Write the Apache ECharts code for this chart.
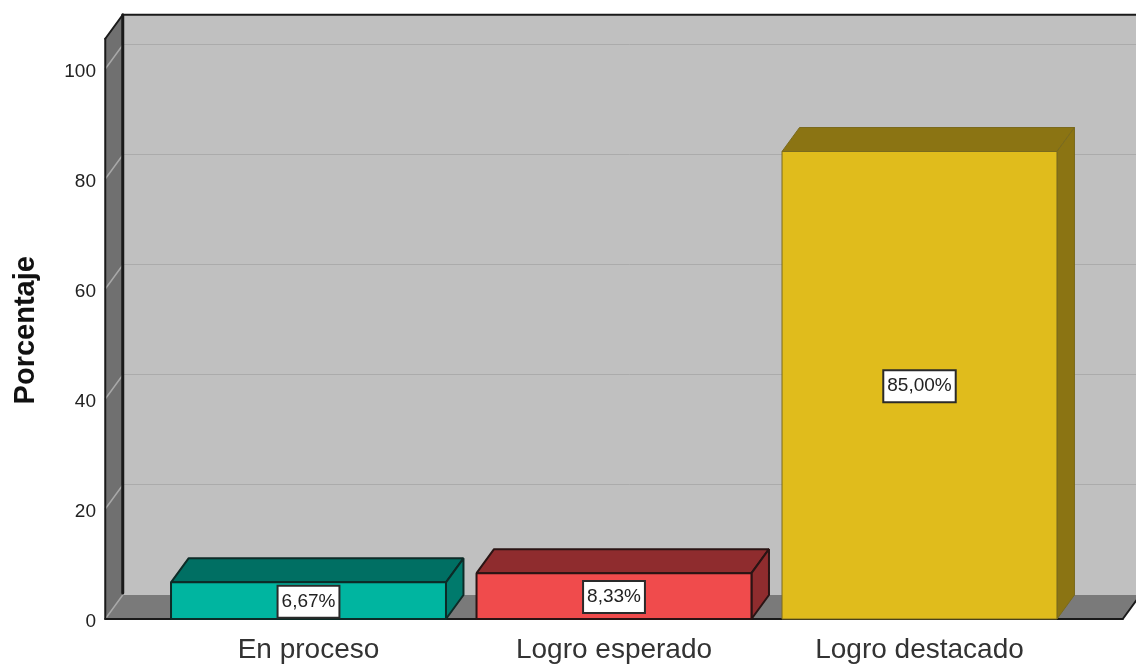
<!DOCTYPE html>
<html><head><meta charset="utf-8">
<style>html,body{margin:0;padding:0;background:#fff}#c{width:1136px;height:666px}</style>
<script src="https://cdn.jsdelivr.net/npm/echarts@6/dist/echarts.min.js"></script>
</head><body><div id="c"></div>
<script>
const categories = ['En proceso', 'Logro esperado', 'Logro destacado'];
const percentages = [6.67, 8.33, 85.0];
const gridTicks = [0, 20, 40, 60, 80, 100];
const faceColors = ['#00B5A0', '#F04B4C', '#E0BC1C'];
const topColors = ['#006F63', '#8F2C2E', '#8B7413'];
const sideColors = ['#007A6C', '#8F2C2E', '#8B7413'];
const edgeColors = ['#0D2B27', '#2A1414', '#7A6A1E'];
const edgeWidths = [2, 2, 1];

const DX = 17.5, DY = -24, AXIS_MAX = 105, WALL_TOP = 105.5, BAND_PAD = 0.1653, BAR_RATIO = 0.9;
const EDGE = '#1a1a1a';
const poly = (pts, fill, stroke, lw) => ({type:'polygon', shape:{points:pts}, style:{fill, stroke: stroke||null, lineWidth: lw||0, lineJoin:'bevel'}});
const seg = (a, b, stroke, lw) => ({type:'line', shape:{x1:a[0],y1:a[1],x2:b[0],y2:b[1]}, style:{stroke, lineWidth:lw, lineCap:'round'}});

function renderWalls(params, api) {
  const band = api.size([1, 0])[0];
  const x0 = api.coord([0, 0])[0] - band * (0.5 + BAND_PAD);
  const x1 = api.coord([categories.length - 1, 0])[0] + band * (0.5 + BAND_PAD);
  const yOf = v => api.coord([0, v])[1];
  const yb = yOf(0), yt = yOf(WALL_TOP);
  const ch = [
    poly([[x0+DX,yt+DY],[x1+DX+20,yt+DY],[x1+DX+20,yb+DY],[x0+DX,yb+DY]], '#C0C0C0'),
    poly([[x0,yt],[x0+DX,yt+DY],[x0+DX,yb+DY],[x0,yb]], '#707070'),
    poly([[x0,yb],[x1,yb],[x1+DX,yb+DY],[x0+DX,yb+DY]], '#7A7A7A')
  ];
  gridTicks.forEach(t => {
    const y = Math.round(yOf(t));
    if (t > 0) ch.push(seg([x0+DX,y+DY-0.5],[x1+DX+20,y+DY-0.5],'#ABABAB',1));
    ch.push(seg([x0,y],[x0+DX,y+DY],'#A8A8A8',1.5));
  });
  ch.push(seg([x0+DX,yb+DY-2],[x0+DX,yt+DY],EDGE,3));
  ch.push(seg([x0+DX,yt+DY],[x1+DX+20,yt+DY],EDGE,2));
  ch.push(seg([x0,yt],[x0+DX,yt+DY],EDGE,2));
  ch.push(seg([x0,yt],[x0,yb],EDGE,2));
  ch.push(seg([x0,yb],[x1,yb],EDGE,2));
  ch.push(seg([x1,yb],[x1+DX,yb+DY],EDGE,2));
  return {type:'group', children: ch};
}

function renderBar(params, api) {
  const i = api.value(0), v = api.value(1);
  const w = api.size([1, 0])[0] * BAR_RATIO;
  const c = api.coord([i, v]), b = api.coord([i, 0]);
  const l = c[0] - w/2, r = c[0] + w/2, t = c[1], bt = b[1];
  const st = edgeColors[i], lw = edgeWidths[i];
  return {type:'group', children:[
    poly([[l,t],[r,t],[r+DX,t+DY],[l+DX,t+DY]], topColors[i], st, lw),
    poly([[r,t],[r+DX,t+DY],[r+DX,bt+DY],[r,bt]], sideColors[i], st, lw),
    poly([[l,bt],[r,bt],[r,t],[l,t]], faceColors[i], st, lw),
    {type:'text', x:c[0], y:(t+bt)/2 + 1, z2:10, style:{
      text: v.toFixed(2).replace('.', ',') + '%', align:'center', verticalAlign:'middle',
      font:'19px "Liberation Sans"', fill:'#222', backgroundColor:'#fff',
      borderColor:'#2a2a2a', borderWidth:2, padding:[6,3,5,3]
    }}
  ]};
}

const chart = echarts.init(document.getElementById('c'), null, {renderer:'canvas'});
chart.setOption({
  animation:false,
  grid:{left:155.75, top:41.5, width:916.5, height:577.5},
  xAxis:{type:'category', data:categories, axisLine:{show:false}, axisTick:{show:false},
    axisLabel:{fontFamily:'Liberation Sans', fontSize:28, color:'#333', margin:17}},
  yAxis:{type:'value', min:0, max:AXIS_MAX, interval:20, offset:50.75,
    axisLine:{show:false}, axisTick:{show:false}, splitLine:{show:false},
    axisLabel:{margin:9, showMaxLabel:false,
      formatter: v => '{s| }{v|' + v + '}',
      rich:{
        s:{fontSize:1, lineHeight:24},
        v:{fontFamily:'Liberation Sans', fontSize:19, color:'#222', verticalAlign:'bottom'}
      }},
    name:'Porcentaje', nameLocation:'middle', nameGap:65,
    nameTextStyle:{fontFamily:'Liberation Sans', fontSize:29, fontWeight:'bold', color:'#111'}},
  series:[
    {type:'custom', renderItem:renderWalls, data:[[0,0]], encode:{x:0,y:1}, clip:false, silent:true, z:1},
    {type:'custom', renderItem:renderBar, data:percentages.map((v,i)=>[i,v]), encode:{x:0,y:1}, clip:false, z:2}
  ]
});
</script></body></html>
